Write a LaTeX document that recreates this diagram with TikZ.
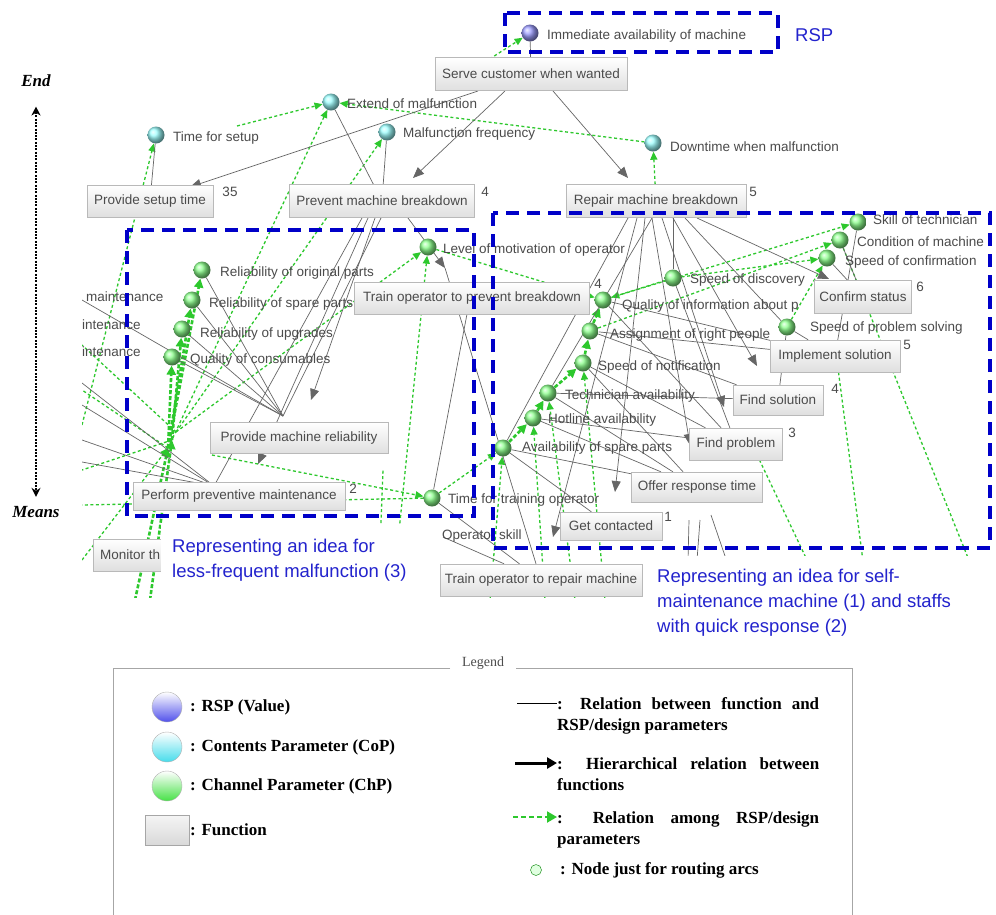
\documentclass[tikz,border=0pt]{standalone}
\usepackage{fontspec}
\setmainfont{Liberation Serif}
\newfontfamily\dsans{Liberation Sans}
\usetikzlibrary{arrows.meta}
\pgfdeclarelayer{bgl}
\pgfdeclarelayer{linel}
\pgfsetlayers{bgl,linel,main}
\definecolor{bluebox}{RGB}{0,0,200}
\definecolor{gline}{RGB}{45,200,45}
\definecolor{lblc}{RGB}{75,75,75}
\definecolor{annot}{RGB}{35,35,205}
\definecolor{lgblue}{RGB}{80,80,235}
\definecolor{lgcyan}{RGB}{70,220,235}
\definecolor{lggreen}{RGB}{70,225,70}
\newcommand{\myDfont}{\dsans\fontsize{13.5}{15}\selectfont}
\newcommand{\myLgfont}{\bfseries\fontsize{17}{21}\selectfont}
\tikzset{
 fn/.style={rectangle, draw=gray!55, top color=white, bottom color=gray!25, text=lblc, font=\myDfont, inner sep=0pt},
 pnode/.style={circle, minimum size=17pt, inner sep=0pt},
 rspc/.style={pnode, ball color=blue!38!white},
 copc/.style={pnode, ball color=cyan!38!white},
 chpc/.style={pnode, ball color=green!45!white},
 lbl/.style={anchor=west, text=lblc, font=\myDfont, inner sep=0pt},
 numl/.style={text=lblc, font=\myDfont, inner sep=0pt},
 rel/.style={draw=black!60, line width=0.7pt},
 hier/.style={rel, -{Triangle[length=11pt,width=9pt]}},
 gd/.style={draw=gline, line width=1.3pt, dash pattern=on 3pt off 2.5pt, -{Triangle[length=8pt,width=7pt]}},
 gdn/.style={draw=gline, line width=1.3pt, dash pattern=on 3pt off 2.5pt},
 gthick/.style={draw=gline, line width=2.6pt, dash pattern=on 4pt off 2pt, -{Triangle[length=9pt,width=9pt]}},
 bbox/.style={draw=bluebox, line width=4.5pt, dash pattern=on 13pt off 8pt},
 ann/.style={anchor=west, align=left, text=annot, font=\dsans\fontsize{18.5}{25}\selectfont, inner sep=0pt},
 lgtext/.style={anchor=west, font=\myLgfont, inner sep=0pt},
 lgpar/.style={anchor=north west, font=\myLgfont, inner sep=0pt, text width=262pt, align=justify},
 lgball/.style={circle, minimum size=30pt, inner sep=0pt, draw=gray!60, top color=white},
}
\begin{document}
\begin{tikzpicture}[x=1pt,y=-1pt]
\useasboundingbox (0,0) rectangle (996,914);
\begin{pgfonlayer}{bgl}
\fill[white] (0,0) rectangle (996,914);
\end{pgfonlayer}

% ---------- parameters ----------
\node[rspc] (imm) at (530,33) {};
\node[lbl] (immL) at (547,36) {Immediate availability of machine};
\node[copc] (ext) at (331,102) {};
\node[lbl] (extL) at (347,104) {Extend of malfunction};
\node[copc] (tsetup) at (156,135) {};
\node[lbl] (tsetupL) at (173,138) {Time for setup};
\node[copc] (mfreq) at (387,132) {};
\node[lbl] (mfreqL) at (403,134) {Malfunction frequency};
\node[copc] (down) at (653,143) {};
\node[lbl] (downL) at (670,147) {Downtime when malfunction};

\node[chpc] (motiv) at (428,247) {};
\node[lbl] (motivL) at (443,250) {Level of motivation of operator};
\node[chpc] (orig) at (202,270) {};
\node[lbl] (origL) at (220,273) {Reliability of original parts};
\node[chpc] (spare) at (192,300) {};
\node[lbl] (spareL) at (209,304) {Reliability of spare parts};
\node[chpc] (upg) at (182,329) {};
\node[lbl] (upgL) at (200,334) {Reliability of upgrades};
\node[chpc] (cons) at (172,357) {};
\node[lbl] (consL) at (190,360) {Quality of consumables};
\node[lbl] (cutA) at (86,297) {maintenance};
\node[lbl] (cutB) at (82,325) {intenance};
\node[lbl] (cutC) at (82,352) {intenance};
\node[chpc] (ttrain) at (432,498) {};
\node[lbl] (ttrainL) at (448,500) {Time for training operator};
\node[lbl] (opskL) at (442,536) {Operator skill};

\node[chpc] (skill) at (858,222) {};
\node[lbl] (skillL) at (873,220) {Skill of technician};
\node[chpc] (cond) at (840,240) {};
\node[lbl] (condL) at (857,242) {Condition of machine};
\node[chpc] (sconf) at (827,258) {};
\node[lbl] (sconfL) at (845,262) {Speed of confirmation};
\node[chpc] (sdisc) at (673,278) {};
\node[lbl] (sdiscL) at (690,280) {Speed of discovery};
\node[chpc] (qinfo) at (603,300) {};
\node[lbl] (qinfoL) at (622,306) {Quality of information about p};
\node[chpc] (assign) at (590,331) {};
\node[lbl] (assignL) at (610,335) {Assignment of right people};
\node[chpc] (sprob) at (787,327) {};
\node[lbl] (sprobL) at (810,328) {Speed of problem solving};
\node[chpc] (snotif) at (583,363) {};
\node[lbl] (snotifL) at (598,367) {Speed of notification};
\node[chpc] (tech) at (548,393) {};
\node[lbl] (techL) at (565,396) {Technician availability};
\node[chpc] (hot) at (533,418) {};
\node[lbl] (hotL) at (548,420) {Hotline availability};
\node[chpc] (avsp) at (503,448) {};
\node[lbl] (avspL) at (522,448) {Availability of spare parts};

% ---------- functions ----------
\node[fn, minimum width=192pt, minimum height=33pt] (serve) at (531,74) {Serve customer when wanted};
\node[fn, minimum width=126pt, minimum height=32pt] (setup) at (150,201) {Provide setup time};
\node[fn, minimum width=185pt, minimum height=33pt] (prevent) at (382,201) {Prevent machine breakdown};
\node[fn, minimum width=180pt, minimum height=33pt] (repair) at (656,201) {Repair machine breakdown};
\node[fn, minimum width=235pt, minimum height=32pt] (trainprev) at (472,298) {Train operator to prevent breakdown};
\node[fn, minimum width=178pt, minimum height=31pt] (reliab) at (299,438) {Provide machine reliability};
\node[fn, minimum width=212pt, minimum height=28pt] (prevmaint) at (239,496) {Perform preventive maintenance};
\node[fn, anchor=west, minimum height=32pt, inner xsep=7pt] (monitor) at (93,555) {Monitor th};
\node[fn, minimum width=202pt, minimum height=32pt] (trainrep) at (541,580) {Train operator to repair machine};
\node[fn, minimum width=97pt, minimum height=33pt] (confirm) at (863,297) {Confirm status};
\node[fn, minimum width=130pt, minimum height=32pt] (implement) at (835,356) {Implement solution};
\node[fn, minimum width=90pt, minimum height=30pt] (findsol) at (778,400) {Find solution};
\node[fn, minimum width=93pt, minimum height=32pt] (findprob) at (736,444) {Find problem};
\node[fn, minimum width=131pt, minimum height=30pt] (offer) at (697,487) {Offer response time};
\node[fn, minimum width=102pt, minimum height=28pt] (getcont) at (611,526) {Get contacted};

\node[numl] (n1) at (230,192) {35};
\node[numl] (n2) at (485,192) {4};
\node[numl] (n3) at (753,192) {5};
\node[numl] (n4) at (598,284) {4};
\node[numl] (n5) at (353,489) {2};
\node[numl] (n6) at (920,287) {6};
\node[numl] (n7) at (907,345) {5};
\node[numl] (n8) at (835,389) {4};
\node[numl] (n9) at (792,433) {3};
\node[numl] (n10) at (668,517) {1};

% ---------- routing coordinates ----------
\coordinate (s1) at (478,91);
\coordinate (s2) at (505,91);
\coordinate (s3) at (553,91);
\coordinate (aSetup) at (190,187);
\coordinate (aPrev) at (413,178);
\coordinate (aRep) at (628,178);
\coordinate (p1) at (408,218);
\coordinate (p2) at (375,218);
\coordinate (p3) at (368,218);
\coordinate (p4) at (362,218);
\coordinate (p5) at (381,218);
\coordinate (aTP) at (445,268);
\coordinate (aRel) at (311,400);
\coordinate (aPM) at (258,464);
\coordinate (r1) at (637,218);
\coordinate (r2) at (645,218);
\coordinate (r3) at (652,218);
\coordinate (r4) at (662,218);
\coordinate (r5) at (673,218);
\coordinate (r6) at (697,218);
\coordinate (r7) at (685,218);
\coordinate (r8) at (628,218);
\coordinate (aGC) at (553,537);
\coordinate (aOff) at (615,492);
\coordinate (aFP) at (690,445);
\coordinate (aFS) at (724,407);
\coordinate (aImp) at (757,366);
\coordinate (aConf) at (829,279);
\coordinate (rl) at (283,416);
\coordinate (pm) at (214,486);
\coordinate (L1) at (82,383);
\coordinate (L2) at (82,405);
\coordinate (L3) at (82,440);
\coordinate (L4) at (82,462);
\coordinate (L5) at (82,300);
\coordinate (tp1) at (467,314);
\coordinate (osk) at (443,537);
\coordinate (ob1) at (689,520);
\coordinate (ob2) at (700,520);
\coordinate (ob3) at (711,515);
\coordinate (ob1e) at (687,600);
\coordinate (ob2e) at (694,600);
\coordinate (ob3e) at (740,600);
\coordinate (gA) at (237,126);
\coordinate (gI) at (485,62);
\coordinate (gL1) at (82,425);
\coordinate (gL2) at (82,560);
\coordinate (gL3) at (82,390);
\coordinate (gL4) at (82,345);
\coordinate (gL5) at (82,505);
\coordinate (gL6) at (82,470);
\coordinate (clA) at (168,448);
\coordinate (clB) at (176,432);
\coordinate (clC) at (172,440);
\coordinate (gR1) at (212,455);
\coordinate (gB1) at (392,600);
\coordinate (gB2) at (135,600);
\coordinate (gB11) at (150,600);
\coordinate (gB3) at (985,600);
\coordinate (gT2) at (835,345);
\coordinate (gB4) at (868,600);
\coordinate (gT3) at (750,440);
\coordinate (gB5) at (826,600);
\coordinate (gB6) at (545,600);
\coordinate (gB7) at (575,600);
\coordinate (gB8) at (605,600);
\coordinate (gB9) at (490,600);
\coordinate (gB10) at (378,600);
\coordinate (gT10) at (383,470);

% ---------- connectors ----------
\begin{pgfonlayer}{linel}
% green relations
\draw[gd] (gA) -- (ext);
\draw[gd] (down) -- (ext);
\draw[gd] (gL1) -- (tsetup);
\draw[gd] (clA) -- (ext);
\draw[gd] (clB) -- (mfreq);
\draw[gd] (repair) -- (down);
\draw[gd] (gI) -- (imm);
\draw[gthick] (clA) -- (orig);
\draw[gthick] (clA) -- (spare);
\draw[gthick] (clC) -- (upg);
\draw[gthick] (clA) -- (cons);
\draw[gthick] (gB2) -- (clA);
\draw[gthick] (gB11) -- (clC);
\draw[gd] (clB) -- (motiv);
\draw[gd] (gR1) -- (ttrain);
\draw[gd] (ttrain) -- (avsp);
\draw[gd] (gB1) -- (motiv);
\draw[gdn] (gB10) -- (gT10);
\draw[gd] (gL2) -- (clA);
\draw[gdn] (clA) -- (gL3);
\draw[gdn] (clB) -- (gL4);
\draw[gdn] (clC) -- (gL6);
\draw[gdn] (ttrain) -- (gL5);
\draw[gthick] (avsp) -- (hot);
\draw[gthick] (hot) -- (tech);
\draw[gthick] (tech) -- (snotif);
\draw[gthick] (snotif) -- (assign);
\draw[gthick] (assign) -- (qinfo);
\draw[gd] (qinfo) -- (skill);
\draw[gd] (assign) -- (cond);
\draw[gd] (sdisc) -- (sconf);
\draw[gd] (sprob) -- (sconf);
\draw[gd] (sdisc) -- (qinfo);
\draw[gd] (motiv) -- (qinfo);
\draw[gdn] (cond) -- (gB3);
\draw[gdn] (gT2) -- (gB4);
\draw[gdn] (gT3) -- (gB5);
\draw[gd] (gB6) -- (hot);
\draw[gd] (gB7) -- (tech);
\draw[gd] (gB8) -- (snotif);
\draw[gd] (gB9) -- (avsp);
% black relations
\draw[rel] (imm) -- (serve);
\draw[hier] (s1) -- (aSetup);
\draw[hier] (s2) -- (aPrev);
\draw[hier] (s3) -- (aRep);
\draw[rel] (ext) -- (prevent);
\draw[rel] (mfreq) -- (prevent);
\draw[rel] (tsetup) -- (setup);
\draw[hier] (p1) -- (aTP);
\draw[hier] (p2) -- (aRel);
\draw[hier] (p3) -- (aPM);
\draw[rel] (pm) -- (p4);
\draw[rel] (rl) -- (p5);
\draw[hier] (r1) -- (aGC);
\draw[hier] (r2) -- (aOff);
\draw[hier] (r3) -- (aFP);
\draw[hier] (r4) -- (aFS);
\draw[hier] (r5) -- (aImp);
\draw[hier] (r6) -- (aConf);
\draw[rel] (r7) -- (sprob);
\draw[rel] (r8) -- (avsp);
\draw[rel] (r3) -- (tech);
\draw[rel] (r5) -- (sdisc);
\draw[rel] (rl) -- (orig);
\draw[rel] (rl) -- (spare);
\draw[rel] (rl) -- (upg);
\draw[rel] (rl) -- (cons);
\draw[rel] (pm) -- (L1);
\draw[rel] (pm) -- (L2);
\draw[rel] (pm) -- (L3);
\draw[rel] (pm) -- (L4);
\draw[rel] (rl) -- (L5);
\draw[rel] (tp1) -- (ttrain);
\draw[rel] (aTP) -- (trainrep);
\draw[rel] (ttrain) -- (trainrep);
\draw[rel] (osk) -- (trainrep);
\draw[rel] (assign) -- (findsol);
\draw[rel] (assign) -- (implement);
\draw[rel] (qinfo) -- (findprob);
\draw[rel] (qinfo) -- (implement);
\draw[rel] (snotif) -- (findprob);
\draw[rel] (snotif) -- (offer);
\draw[rel] (tech) -- (offer);
\draw[rel] (tech) -- (findsol);
\draw[rel] (hot) -- (offer);
\draw[rel] (hot) -- (findprob);
\draw[rel] (avsp) -- (offer);
\draw[rel] (avsp) -- (getcont);
\draw[rel] (sdisc) -- (findprob);
\draw[rel] (sprob) -- (implement);
\draw[rel] (sprob) -- (findsol);
\draw[rel] (sconf) -- (confirm);
\draw[rel] (cond) -- (confirm);
\draw[rel] (skill) -- (implement);
\draw[rel] (ob1) -- (ob1e);
\draw[rel] (ob2) -- (ob2e);
\draw[rel] (ob3) -- (ob3e);
\end{pgfonlayer}

% ---------- idea boxes ----------
\draw[bbox] (505,13) rectangle (778,52);
\draw[bbox] (127,230) rectangle (474,516);
\draw[bbox] (493,213) rectangle (990,548);

% ---------- masks (screenshot edges) ----------
\fill[white] (0,0) rectangle (82,600);
\fill[white] (0,598) rectangle (996,914);
\fill[white] (0,0) rectangle (996,8);
\fill[white] (161,524) rectangle (434,600);
\fill[white] (646,556) rectangle (996,600);

% ---------- annotations ----------
\node[ann] (rspT) at (795,35) {RSP};
\node[ann] (annL) at (172,560) {Representing an idea for\\less-frequent malfunction (3)};
\node[ann] (annR) at (657,603) {Representing an idea for self-\\maintenance machine (1) and staffs\\with quick response (2)};

% ---------- End / Means ----------
\node[font=\bfseries\itshape\fontsize{17}{17}\selectfont] (endT) at (36,81) {End};
\node[font=\bfseries\itshape\fontsize{17}{17}\selectfont] (meansT) at (36,512) {Means};
\draw[line width=1.6pt, dash pattern=on 2pt off 1.3pt, {Stealth[length=9pt,width=9pt]}-{Stealth[length=9pt,width=9pt,open]}, shorten <=16pt, shorten >=6pt] (endT) -- (meansT);

% ---------- legend ----------
\coordinate (lgA) at (450,668);
\coordinate (lgB) at (113,668);
\coordinate (lgC) at (113,916);
\coordinate (lgD) at (516,668);
\coordinate (lgE) at (852,668);
\coordinate (lgF) at (852,916);
\draw[gray!70, line width=0.9pt] (lgA) -- (lgB) -- (lgC);
\draw[gray!70, line width=0.9pt] (lgD) -- (lgE) -- (lgF);
\node[font=\fontsize{14}{14}\selectfont, text=gray!60!black] (lgT) at (483,663) {Legend};
\node[lgball, bottom color=lgblue] (lgR) at (167,707) {};
\node[lgball, bottom color=lgcyan] (lgCo) at (167,747) {};
\node[lgball, bottom color=lggreen] (lgCh) at (167,786) {};
\node[rectangle, minimum width=44pt, minimum height=30pt, draw=gray!70, top color=gray!8, bottom color=gray!30] (lgFn) at (167,830) {};
\node[lgtext] (lgRt) at (190,707) {: RSP (Value)};
\node[lgtext] (lgCot) at (190,747) {: Contents Parameter (CoP)};
\node[lgtext] (lgCht) at (190,786) {: Channel Parameter (ChP)};
\node[lgtext] (lgFnt) at (190,830) {: Function};
\coordinate (lr1a) at (517,703);
\coordinate (lr1b) at (557,703);
\draw[black, line width=0.8pt] (lr1a) -- (lr1b);
\node[lgpar] (lgP1) at (557,697) {: Relation between function and \mbox{RSP/design} \mbox{parameters}};
\coordinate (lr2a) at (515,763);
\coordinate (lr2b) at (557,763);
\draw[black, line width=3pt, -{Triangle[length=10pt,width=11pt]}] (lr2a) -- (lr2b);
\node[lgpar] (lgP2) at (557,757) {: Hierarchical relation between \mbox{functions}};
\coordinate (lr3a) at (513,817);
\coordinate (lr3b) at (557,817);
\draw[gline, line width=2pt, dash pattern=on 5pt off 3pt, -{Triangle[length=10pt,width=11pt]}] (lr3a) -- (lr3b);
\node[lgpar] (lgP3) at (557,811) {: Relation among \mbox{RSP/design} \mbox{parameters}};
\node[circle, minimum size=11pt, inner sep=0pt, draw=green!50!black, fill=green!12] (lgRoute) at (536,870) {};
\node[lgtext] (lgP4) at (560,870) {: Node just for routing arcs};
\end{tikzpicture}
\end{document}
